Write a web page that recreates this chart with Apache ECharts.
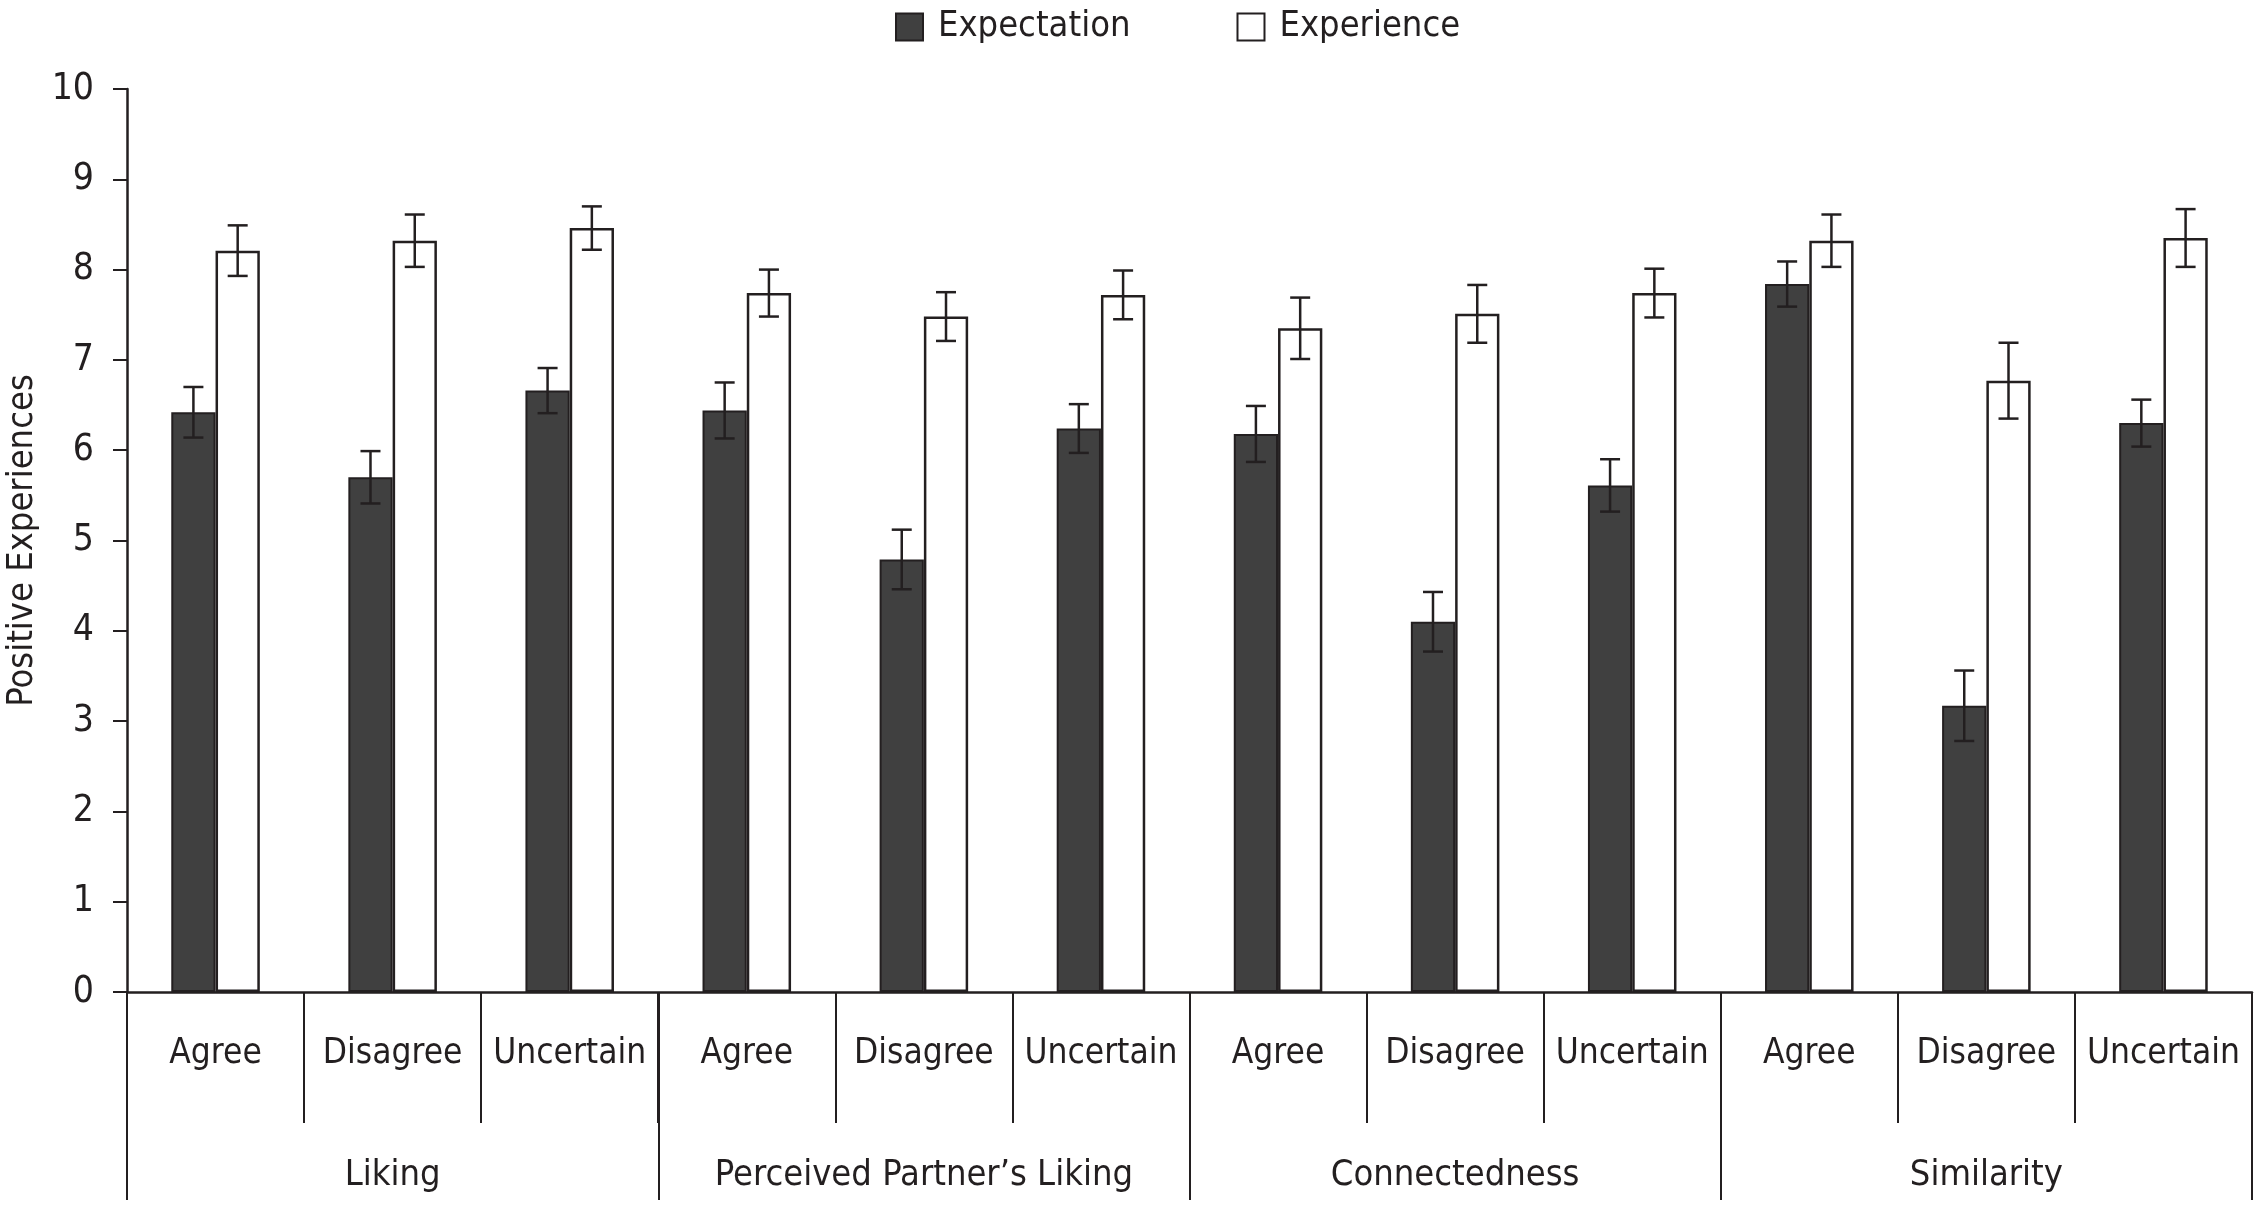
<!DOCTYPE html>
<html>
<head>
<meta charset="utf-8">
<script src="https://cdn.jsdelivr.net/npm/echarts@6/dist/echarts.min.js"></script>
<style>
    html, body { margin: 0; padding: 0; background: #fff; }
    #chart { width: 2258px; height: 1205px; }
</style>
</head>
<body>
<div id="chart"></div>
<script>
// x categories: answer within each measure
var categories = ['Agree', 'Disagree', 'Uncertain', 'Agree', 'Disagree', 'Uncertain',
                  'Agree', 'Disagree', 'Uncertain', 'Agree', 'Disagree', 'Uncertain'];
var groups = ['Liking', 'Perceived Partner\u2019s Liking', 'Connectedness', 'Similarity'];
var yTicks = [0, 10, 1];   // min, max, step

var expectation    = [6.42, 5.70, 6.66, 6.44, 4.79, 6.24, 6.18, 4.10, 5.61, 7.84, 3.17, 6.30];
var expectationErr = [0.28, 0.29, 0.25, 0.31, 0.33, 0.27, 0.31, 0.33, 0.29, 0.25, 0.39, 0.26];
var experience     = [8.21, 8.32, 8.46, 7.74, 7.48, 7.72, 7.35, 7.51, 7.74, 8.32, 6.77, 8.35];
var experienceErr  = [0.28, 0.29, 0.24, 0.26, 0.27, 0.27, 0.34, 0.32, 0.27, 0.29, 0.42, 0.32];

var FONT = '"Liberation Sans Narrow", "DejaVu Sans Condensed", sans-serif';
var INK = '#231f20';

function errorSeries(values, errs, side) {
    var data = [];
    for (var i = 0; i < values.length; i++) {
        data.push([i, values[i] - errs[i], values[i] + errs[i]]);
    }
    return {
        type: 'custom',
        z: 10,
        silent: true,
        data: data,
        renderItem: function(params, api) {
            var band = api.size([1, 0])[0];
            var lo = api.coord([api.value(0), api.value(1)]);
            var hi = api.coord([api.value(0), api.value(2)]);
            var x = lo[0] + side * band * 0.125;
            var cap = 10;
            var style = { stroke: INK, lineWidth: 2.5 };
            return {
                type: 'group',
                children: [
                    { type: 'line', shape: { x1: x, y1: hi[1], x2: x, y2: lo[1] }, style: style },
                    { type: 'line', shape: { x1: x - cap, y1: hi[1], x2: x + cap, y2: hi[1] }, style: style },
                    { type: 'line', shape: { x1: x - cap, y1: lo[1], x2: x + cap, y2: lo[1] }, style: style }
                ]
            };
        }
    };
}

window.onload = function() {
    var chart = echarts.init(document.getElementById('chart'));
    chart.setOption({
        animation: false,
        textStyle: { fontFamily: FONT, color: INK },
        legend: {
            data: ['Expectation', 'Experience'],
            left: 890,
            top: 4,
            itemWidth: 27,
            itemHeight: 27,
            itemGap: 106,
            icon: 'rect',
            textStyle: { fontSize: 36, fontFamily: FONT, color: INK, padding: [0, 0, 0, 10] }
        },
        grid: {
            left: 127,
            right: 6,
            top: 89,
            bottom: 213,
            containLabel: false,
            outerBoundsMode: 'none'
        },
        xAxis: [{
            type: 'category',
            data: categories,
            axisLine: { lineStyle: { color: INK, width: 2.5 } },
            axisTick: { show: true, alignWithLabel: false, interval: 0, length: 131, lineStyle: { color: INK, width: 2 } },
            axisLabel: { interval: 0, fontSize: 35, margin: 44, color: INK, fontFamily: FONT }
        }, {
            type: 'category',
            data: groups,
            position: 'bottom',
            axisLine: { show: false },
            axisTick: { show: true, alignWithLabel: false, interval: 0, length: 208, lineStyle: { color: INK, width: 2 } },
            axisLabel: { interval: 0, fontSize: 36, margin: 166, color: INK, fontFamily: FONT }
        }],
        yAxis: {
            type: 'value',
            min: yTicks[0],
            max: yTicks[1],
            interval: yTicks[2],
            name: 'Positive Experiences',
            nameLocation: 'middle',
            nameGap: 85,
            nameTextStyle: { fontSize: 36, color: INK, fontFamily: FONT },
            axisLine: { show: true, lineStyle: { color: INK, width: 2.5 } },
            axisTick: { show: true, length: 14, lineStyle: { color: INK, width: 2 } },
            axisLabel: { fontSize: 37, margin: 33, color: INK, fontFamily: FONT },
            splitLine: { show: false }
        },
        series: [{
            name: 'Expectation',
            type: 'bar',
            barWidth: '25%',
            barGap: '0%',
            itemStyle: { color: '#404040', borderColor: INK, borderWidth: 2 },
            data: expectation
        }, {
            name: 'Experience',
            type: 'bar',
            barWidth: '25%',
            barGap: '0%',
            itemStyle: { color: '#ffffff', borderColor: INK, borderWidth: 2.5 },
            data: experience
        },
        errorSeries(expectation, expectationErr, -1),
        errorSeries(experience, experienceErr, 1)]
    });
};
</script>
</body>
</html>
